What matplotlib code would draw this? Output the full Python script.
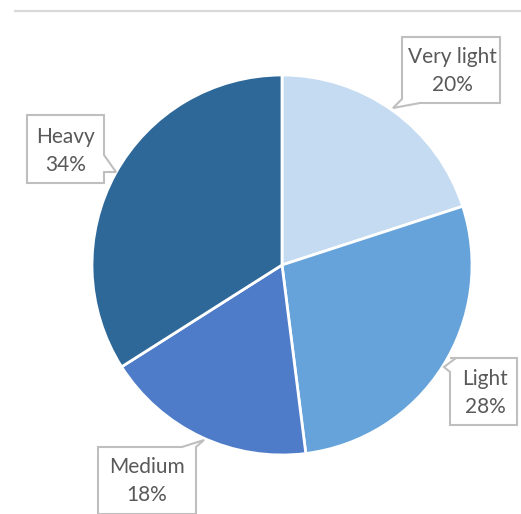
import matplotlib
matplotlib.use("Agg")
import matplotlib.pyplot as plt
from matplotlib.patches import Polygon
from matplotlib.lines import Line2D

categories = ["Very light", "Light", "Medium", "Heavy"]
values = [20, 28, 18, 34]
labels = ["Very light\n20%", "Light\n28%", "Medium\n18%", "Heavy\n34%"]
colors = ["#C5DBF1", "#65A3DA", "#4F7CC9", "#2E6899"]

W, H = 521, 514
fig = plt.figure(figsize=(W / 100, H / 100), dpi=100)
ax = fig.add_axes([0, 0, 1, 1])
CX, CY, R = 282, 265, 190

ax.pie(values, colors=colors, startangle=90, counterclock=False, radius=1,
       wedgeprops=dict(edgecolor="white", linewidth=2))
ax.set_xlim(-CX / R, (W - CX) / R)
ax.set_ylim(-(H - CY) / R, CY / R)
ax.set_aspect("auto")
ax.axis("off")


def P(px, py):
    return (px / W, 1 - py / H)


# top rule
fig.add_artist(Line2D([15 / W, 1], [1 - 11 / H] * 2, color="#D9D9D9", lw=1.6,
                      transform=fig.transFigure))

# callout shapes (pixel coordinates)
callouts = {
    "Very light": [(402, 37), (500, 37), (500, 103), (420, 103), (393, 108), (402, 99)],
    "Heavy": [(27, 115), (104, 115), (104, 155), (116, 172), (104, 172), (104, 183), (27, 183)],
    "Light": [(450, 358), (517, 358), (517, 425), (450, 425), (450, 372), (444, 367), (456, 358)],
    "Medium": [(98, 447), (182, 447), (204, 440), (196, 447), (196, 514), (98, 514)],
}
centers = {"Very light": (452, 71), "Heavy": (66, 151), "Light": (485, 393), "Medium": (147, 481)}

for cat, lab in zip(categories, labels):
    pts = [P(x, y) for x, y in callouts[cat]]
    fig.add_artist(Polygon(pts, closed=True, facecolor="white", edgecolor="#BFBFBF",
                           lw=1.5, transform=fig.transFigure, zorder=5))
    cx, cy = P(*centers[cat])
    fig.text(cx, cy, lab, ha="center", va="center", fontsize=15, family="Lato",
             color="#595959", linespacing=1.5, zorder=6)

fig.savefig("out.png", dpi=100)
